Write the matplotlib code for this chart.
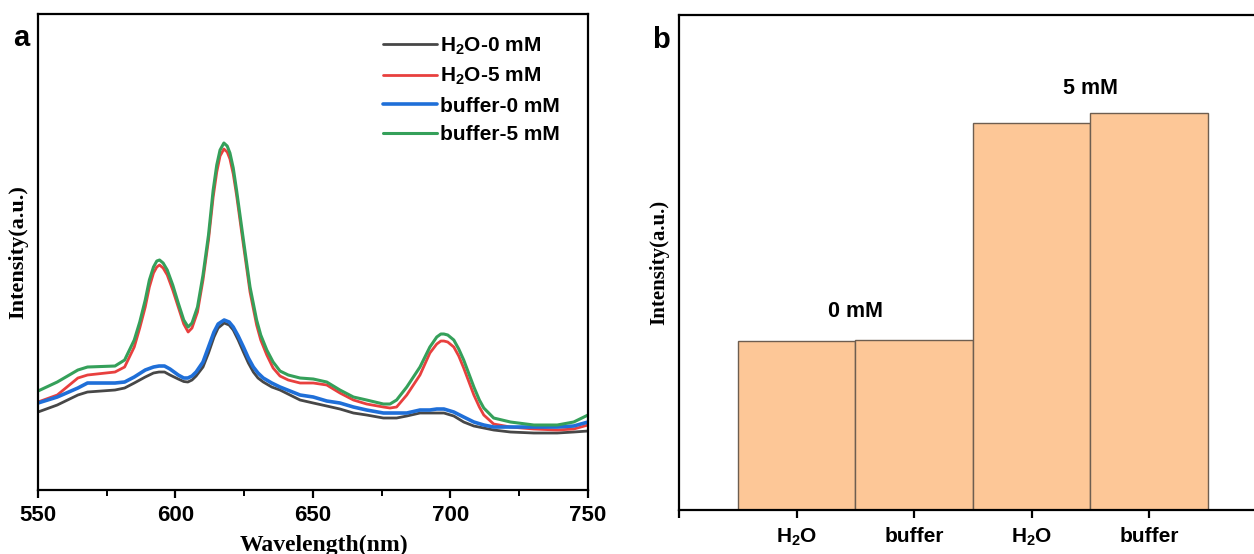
import numpy as np
import matplotlib
matplotlib.use('Agg')
import matplotlib.pyplot as plt

plt.rcParams['font.family'] = ['Liberation Sans', 'DejaVu Sans']
plt.rcParams['font.weight'] = 'bold'
plt.rcParams['mathtext.fontset'] = 'custom'
plt.rcParams['mathtext.rm'] = 'Liberation Sans:bold'
plt.rcParams['mathtext.bf'] = 'Liberation Sans:bold'
plt.rcParams['mathtext.default'] = 'bf'

# ---- panel a: emission spectra (a.u.) ----
# wavelengths for the two 0 mM curves
wl_0mM = [550, 557, 564.5, 568, 578, 581.5, 585, 589, 592, 594, 596, 598, 601, 603,
          604.5, 606, 607.5, 610, 612, 614, 615.5, 617.7, 619.5, 621, 622.8, 624.7,
          626.5, 628.3, 630, 631.9, 635, 638, 645.3, 650.1, 655, 659.8, 664.7, 669.5,
          675.6, 680.4, 684.1, 688.9, 692.5, 695, 697.6, 701.2, 704.8, 708.5, 712.1,
          715.7, 721.8, 730.3, 738.8, 744.8, 750]
h2o_0 = [78, 85, 95, 98, 100, 102, 107, 113, 117, 118, 118, 115, 111, 108.5,
         108, 110, 114, 123, 137, 153, 162, 167, 165, 160, 150, 138,
         127, 118, 112, 108, 103, 100, 90, 87, 84, 81, 77, 75,
         72, 72, 74, 77, 77, 77, 77, 74, 68, 64, 62,
         60, 58, 57, 57, 58, 59]
buf_0 = [87, 93, 102, 107, 107, 108, 113, 120, 123, 124, 124, 121, 115, 112,
         112, 114, 118, 128, 143, 158, 166, 170, 168, 163, 154, 143,
         132, 123, 117, 112, 107, 103, 95, 93, 89, 87, 83, 80,
         77, 77, 77, 80, 80, 81, 81, 78, 73, 68, 65,
         63, 63, 63, 63, 64, 68]

# wavelengths for the two 5 mM curves
wl_5mM = [550, 557, 564.5, 568, 578, 581.5, 585, 587, 589, 590.5, 592, 593.2, 594.2,
          595.5, 597, 599, 601, 603, 604.6, 606, 608, 610, 612, 613.7, 615, 616.2,
          617.6, 618.8, 619.8, 621, 622.2, 624.7, 627.1, 629.5, 631, 633.2, 635.5,
          638, 641, 645.3, 650.1, 655, 659.8, 664.7, 669.5, 675.6, 678, 680.4, 684.1,
          688.9, 692.5, 695, 696.5, 697.6, 699, 701.2, 703, 704.8, 708.5, 710.5,
          712.1, 715.7, 721.8, 730.3, 738.8, 744.8, 750]
h2o_5 = [88, 95, 112, 115, 118, 123, 143, 162, 183, 203, 217, 223, 225,
         222, 215, 200, 183, 166, 158, 162, 178, 210, 250, 293, 318, 334,
         341, 338, 331, 316, 295, 245, 198, 165, 150, 135, 122,
         114, 110, 107, 107, 105, 97, 90, 86, 83, 82, 83, 95,
         115, 137, 146, 149, 149, 148, 143, 134, 122, 95, 83,
         75, 66, 63, 61, 60, 61, 65]
buf_5 = [99, 108, 120, 123, 124, 130, 150, 168, 190, 210, 223, 229, 230,
         227, 220, 205, 187, 170, 163, 167, 183, 215, 255, 300, 325, 340,
         347, 344, 337, 322, 300, 250, 203, 170, 155, 140, 128,
         119, 115, 112, 111, 108, 100, 93, 90, 86, 86, 90, 103,
         123, 143, 153, 156, 156, 155, 150, 141, 130, 103, 90,
         82, 72, 68, 65, 65, 68, 75]

# ---- panel b: bar intensities ----
bar_labels = ['H$_2$O', 'buffer', 'H$_2$O', 'buffer']
bar_values = [169, 170, 387, 397]
group_labels = ['0 mM', '5 mM']

fig = plt.figure(figsize=(12.54, 5.54), dpi=100)

# panel a
ax1 = fig.add_axes([0.0303, 0.1155, 0.4386, 0.8592])
kw = dict(solid_joinstyle='round', solid_capstyle='round')
ax1.plot(wl_0mM, h2o_0, color='#474747', lw=2.0, label='H$_2$O-0 mM', **kw)
ax1.plot(wl_5mM, h2o_5, color='#e8403e', lw=2.0, label='H$_2$O-5 mM', **kw)
ax1.plot(wl_0mM, buf_0, color='#1f6fd8', lw=2.6, label='buffer-0 mM', **kw)
ax1.plot(wl_5mM, buf_5, color='#35a05a', lw=2.2, label='buffer-5 mM', **kw)
ax1.set_xlim(550, 750)
ax1.set_ylim(0, 476)
ax1.set_xticks([550, 600, 650, 700, 750])
ax1.set_xticks([575, 625, 675, 725], minor=True)
ax1.set_yticks([])
ax1.tick_params(axis='x', which='major', direction='out', length=6, width=1.6,
                labelsize=16, pad=5)
ax1.tick_params(axis='x', which='minor', direction='out', length=4, width=1.4)
for sp in ax1.spines.values():
    sp.set_linewidth(1.6)
ax1.set_xlabel('Wavelength(nm)', family='Liberation Serif', fontweight='bold', fontsize=17)
ax1.xaxis.set_label_coords(0.52, -0.116)
ax1.xaxis.label.set_verticalalignment('center')
ax1.set_ylabel('Intensity(a.u.)', family='Liberation Serif', fontweight='bold', fontsize=16)
ax1.yaxis.label.set_verticalalignment('center')
ax1.yaxis.set_label_coords(-0.035, 0.5)
ax1.legend(loc='upper left', bbox_to_anchor=(0.627, 0.955), frameon=False,
           handlelength=2.6, handletextpad=0.15, labelspacing=0.45,
           borderpad=0, borderaxespad=0, prop={'weight': 'bold', 'size': 15})
fig.text(0.017, 0.931, 'a', fontsize=21, fontweight='bold', ha='center', va='center')

# panel b
ax2 = fig.add_axes([0.5415, 0.0794, 0.4685, 0.8935])
pos = np.arange(1, len(bar_values) + 1)
ax2.bar(pos, bar_values, width=1.0, color='#fdc797', edgecolor='#6e5e50', linewidth=1.0)
ax2.set_xlim(0, 5)
ax2.set_ylim(0, 495)
ax2.set_xticks([0, 1, 2, 3, 4, 5])
ax2.set_xticklabels([''] + bar_labels + [''])
ax2.set_yticks([])
ax2.tick_params(axis='x', direction='out', length=6, width=1.6, labelsize=15, pad=6)
for sp in ax2.spines.values():
    sp.set_linewidth(1.6)
ax2.text(1.5, bar_values[1] + 29, group_labels[0], ha='center', va='center',
         fontsize=15.5, fontweight='bold')
ax2.text(3.5, bar_values[3] + 25, group_labels[1], ha='center', va='center',
         fontsize=15.5, fontweight='bold')
ax2.set_ylabel('Intensity(a.u.)', family='Liberation Serif', fontweight='bold', fontsize=15)
ax2.yaxis.label.set_verticalalignment('center')
ax2.yaxis.set_label_coords(-0.033, 0.5)
fig.text(0.527, 0.928, 'b', fontsize=21, fontweight='bold', ha='center', va='center')

fig.savefig('out.png', dpi=100)
